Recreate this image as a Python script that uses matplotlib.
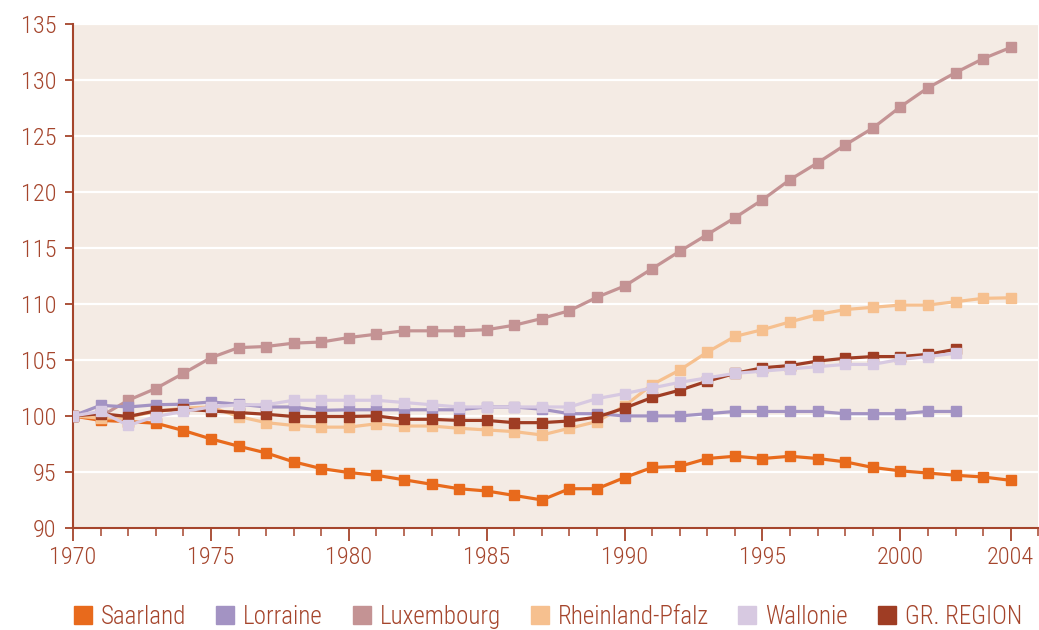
import matplotlib
matplotlib.use("Agg")
import matplotlib.pyplot as plt
from matplotlib import font_manager as fm
from matplotlib.lines import Line2D
from matplotlib.ticker import MultipleLocator

# pick a condensed face if one is around, else fall back
installed = {f.name for f in fm.fontManager.ttflist}
for fam in ['Roboto Condensed', 'Barlow Condensed', 'Archivo Narrow',
            'Liberation Sans Narrow', 'DejaVu Sans']:
    if fam in installed:
        break
plt.rcParams['font.family'] = [fam, 'DejaVu Sans']
plt.rcParams['font.weight'] = 'light'

years = list(range(1970, 2005))

saarland = [100, 99.6, 99.5, 99.35, 98.7, 97.95, 97.3, 96.7, 95.9, 95.3,
            94.95, 94.7, 94.3, 93.9, 93.5, 93.3, 92.9, 92.5, 93.5, 93.5,
            94.5, 95.4, 95.5, 96.2, 96.4, 96.2, 96.4, 96.2, 95.9, 95.4,
            95.1, 94.9, 94.7, 94.55, 94.25]
luxembourg = [100, 99.95, 101.4, 102.45, 103.8, 105.2, 106.1, 106.2, 106.5, 106.6,
              107.0, 107.3, 107.6, 107.6, 107.6, 107.7, 108.1, 108.7, 109.4, 110.6,
              111.6, 113.15, 114.7, 116.2, 117.7, 119.3, 121.1, 122.6, 124.2, 125.7,
              127.6, 129.3, 130.65, 131.9, 132.9]
rheinland = [100, 99.8, 99.9, 100.4, 100.7, 100.8, 99.95, 99.4, 99.15, 99.0,
             99.0, 99.3, 99.1, 99.1, 98.9, 98.75, 98.6, 98.3, 98.9, 99.5,
             100.9, 102.8, 104.1, 105.7, 107.1, 107.7, 108.4, 109.05, 109.5, 109.7,
             109.9, 109.9, 110.2, 110.5, 110.55]
# Lorraine, Wallonie and GR. REGION stop in 2002
lorraine = [100, 100.95, 100.8, 101.0, 101.05, 101.25, 101.05, 100.8, 100.8, 100.5,
            100.55, 100.55, 100.55, 100.55, 100.55, 100.8, 100.8, 100.6, 100.2, 100.2,
            100.0, 100.0, 100.0, 100.2, 100.4, 100.4, 100.4, 100.4, 100.2, 100.2,
            100.2, 100.4, 100.4]
wallonie = [100, 100.4, 99.15, 99.95, 100.4, 100.8, 101.0, 101.0, 101.4, 101.4,
            101.4, 101.4, 101.2, 101.0, 100.8, 100.8, 100.8, 100.8, 100.8, 101.55,
            102.0, 102.5, 103.0, 103.4, 103.8, 104.0, 104.2, 104.4, 104.6, 104.6,
            105.05, 105.3, 105.6]
gr_region = [100, 100.2, 99.95, 100.45, 100.6, 100.45, 100.3, 100.15, 99.95, 99.95,
             99.95, 100.0, 99.7, 99.7, 99.6, 99.6, 99.4, 99.4, 99.55, 99.9,
             100.7, 101.65, 102.3, 103.1, 103.8, 104.3, 104.5, 104.9, 105.15, 105.3,
             105.3, 105.5, 105.95]

labels = ['Saarland', 'Lorraine', 'Luxembourg', 'Rheinland-Pfalz', 'Wallonie', 'GR. REGION']
colors = ['#E86A1C', '#A393C3', '#C49394', '#F6C08F', '#D7C9E1', '#9F3D24']
series = [saarland, lorraine, luxembourg, rheinland, wallonie, gr_region]
zorders = [3, 5, 3, 4, 7, 6]

text_col = '#A5452C'
bg = '#F4EBE4'

fig = plt.figure(figsize=(10.39, 6.30), dpi=100)
ax = fig.add_axes([0.0703, 0.162, 0.929, 0.800])
ax.set_facecolor(bg)

for vals, c, z in zip(series, colors, zorders):
    ax.plot(years[:len(vals)], vals, color=c, lw=2.3, marker='s', ms=6.5,
            mec=c, mfc=c, zorder=z, solid_joinstyle='round')

ax.set_xlim(1970, 2005)
ax.set_ylim(90, 135)
ax.set_yticks(range(90, 136, 5))
ax.set_xticks([1970, 1975, 1980, 1985, 1990, 1995, 2000, 2004])
ax.xaxis.set_minor_locator(MultipleLocator(1))
ax.yaxis.grid(True, color='white', lw=1.6, zorder=1)
ax.set_axisbelow(True)

for s in ['top', 'right']:
    ax.spines[s].set_visible(False)
for s in ['left', 'bottom']:
    ax.spines[s].set_color(text_col)
    ax.spines[s].set_linewidth(1.5)

ax.tick_params(axis='both', colors=text_col, labelsize=17.5, width=1.3)
ax.tick_params(axis='x', which='major', length=9, pad=4)
ax.tick_params(axis='x', which='minor', length=6, width=1.1, color=text_col)
ax.tick_params(axis='y', length=6, pad=6)
for lab in ax.get_xticklabels() + ax.get_yticklabels():
    lab.set_color(text_col)

handles = [Line2D([], [], ls='none', marker='s', ms=13, mfc=c, mec=c) for c in colors]
leg = fig.legend(handles, labels, loc='center left', bbox_to_anchor=(0.048, 0.021),
                 ncol=6, frameon=False, fontsize=18, handletextpad=0.3,
                 columnspacing=1.12, handlelength=0.85)
for t in leg.get_texts():
    t.set_color(text_col)

fig.savefig('out.png', dpi=100)
